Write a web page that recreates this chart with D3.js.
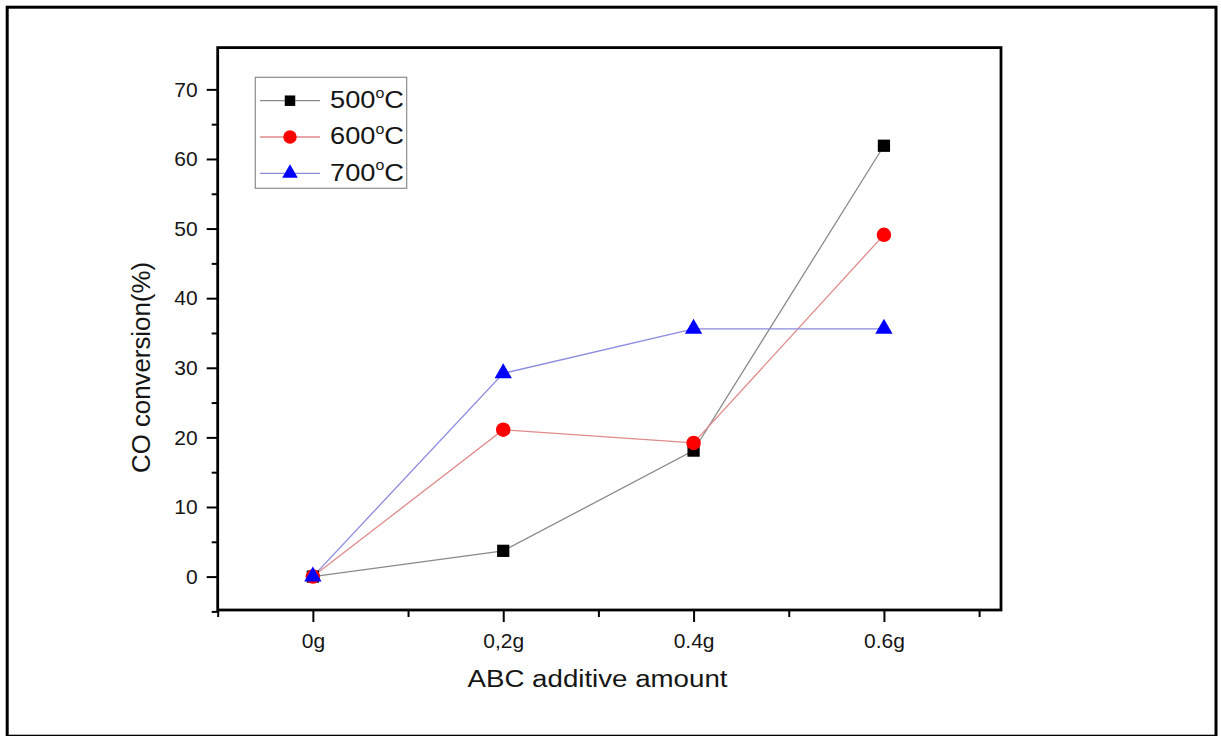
<!DOCTYPE html>
<html>
<head>
<meta charset="utf-8">
<script src="https://cdn.jsdelivr.net/npm/d3@7"></script>
<style>
  body { margin: 0; background: #fff; }
  svg { display: block; }
  text { font-family: "Liberation Sans", Arial, sans-serif; fill: #151515; }
</style>
</head>
<body>
<svg id="chart" width="1221" height="736"></svg>
<script>
// Categories on the x axis (ABC additive amount)
const categories = ["0g", "0,2g", "0.4g", "0.6g"];
// CO conversion (%) for each temperature
const values500 = [0, 3.7, 18.1, 61.9];
const values600 = [0, 21.1, 19.2, 49.1];
const values700 = [0, 29.2, 35.6, 35.6];
const seriesLabels = ["500", "600", "700"];
// Axis ticks
const yTicks = [0, 10, 20, 30, 40, 50, 60, 70];
const yMinorTicks = [-5, 5, 15, 25, 35, 45, 55, 65];
const xMinorTicks = [-0.5, 0.5, 1.5, 2.5, 3.5];

const series = [
  { label: seriesLabels[0], values: values500, color: "#000000", line: "#8a8a8a", symbol: d3.symbolSquare, size: 150, legendSize: 110 },
  { label: seriesLabels[1], values: values600, color: "#ff0000", line: "#e08a8a", symbol: d3.symbolCircle, size: 165, legendSize: 140 },
  { label: seriesLabels[2], values: values700, color: "#0000ff", line: "#8a8ae0", symbol: d3.symbolTriangle, size: 130, legendSize: 105 }
];

const svg = d3.select("#chart");

// Outer frame around the whole figure
svg.append("rect")
  .attr("x", 7.2).attr("y", 7.2)
  .attr("width", 1208.8).attr("height", 729)
  .attr("fill", "none").attr("stroke", "#000").attr("stroke-width", 3);

const plot = { left: 217.7, right: 1001, top: 47.6, bottom: 610 };

const x = d3.scaleLinear().domain([-0.5, 3.615]).range([plot.left, plot.right]);
const y = d3.scaleLinear().domain([-4.8, 76]).range([plot.bottom, plot.top]);

// Y axis: major and minor ticks
const yAxis = d3.axisLeft(y).tickValues(yTicks).tickSize(11).tickPadding(9).tickFormat(d3.format("d"));
const gy = svg.append("g").attr("transform", `translate(${plot.left},0)`).call(yAxis);
const yMinor = d3.axisLeft(y).tickValues(yMinorTicks).tickSize(6).tickFormat("");
const gy2 = svg.append("g").attr("transform", `translate(${plot.left},0)`).call(yMinor);

// X axis: category labels and minor ticks between them
const xAxis = d3.axisBottom(x).tickValues(d3.range(categories.length)).tickSize(12).tickPadding(11)
  .tickFormat(i => categories[i]);
const gx = svg.append("g").attr("transform", `translate(0,${plot.bottom})`).call(xAxis);
const xMinor = d3.axisBottom(x).tickValues(xMinorTicks).tickSize(7).tickFormat("");
const gx2 = svg.append("g").attr("transform", `translate(0,${plot.bottom})`).call(xMinor);

[gy, gy2, gx, gx2].forEach(g => {
  g.select(".domain").remove();
  g.selectAll(".tick line").attr("stroke", "#000").attr("stroke-width", 2);
  g.selectAll(".tick text").attr("font-size", 21).attr("fill", "#151515")
    .style("font-family", '"Liberation Sans", Arial, sans-serif');
});

// Plot frame
svg.append("rect")
  .attr("x", plot.left).attr("y", plot.top)
  .attr("width", plot.right - plot.left).attr("height", plot.bottom - plot.top)
  .attr("fill", "none").attr("stroke", "#000").attr("stroke-width", 2.8);

// Axis titles
svg.append("text")
  .attr("x", 597.5).attr("y", 687)
  .attr("text-anchor", "middle")
  .attr("font-size", 23)
  .attr("textLength", 260).attr("lengthAdjust", "spacingAndGlyphs")
  .text("ABC additive amount");

svg.append("text")
  .attr("transform", "translate(150,367.5) rotate(-90)")
  .attr("text-anchor", "middle")
  .attr("font-size", 25)
  .attr("textLength", 211).attr("lengthAdjust", "spacingAndGlyphs")
  .text("CO conversion(%)");

// Series lines and markers
const line = d3.line().x((d, i) => x(i)).y(d => y(d));
series.forEach(s => {
  svg.append("path")
    .attr("d", line(s.values))
    .attr("fill", "none")
    .attr("stroke", s.line)
    .attr("stroke-width", 1.3);
});
series.forEach(s => {
  svg.append("g").selectAll("path")
    .data(s.values)
    .join("path")
    .attr("transform", (d, i) => `translate(${x(i)},${y(d)})`)
    .attr("d", d3.symbol(s.symbol, s.size))
    .attr("fill", s.color);
});

// Legend
const legend = svg.append("g");
legend.append("rect")
  .attr("x", 255.3).attr("y", 77.3)
  .attr("width", 151.4).attr("height", 111)
  .attr("fill", "#fff").attr("stroke", "#8c8c8c").attr("stroke-width", 1.2);

series.forEach((s, i) => {
  const cy = 100.7 + i * 36.3;
  legend.append("line")
    .attr("x1", 260).attr("x2", 320).attr("y1", cy).attr("y2", cy)
    .attr("stroke", s.line).attr("stroke-width", 1.3);
  legend.append("path")
    .attr("transform", `translate(290,${cy})`)
    .attr("d", d3.symbol(s.symbol, s.legendSize))
    .attr("fill", s.color);
  const t = legend.append("text")
    .attr("x", 330).attr("y", cy + 7.2)
    .attr("font-size", 24)
    .attr("textLength", 74).attr("lengthAdjust", "spacingAndGlyphs");
  t.append("tspan").text(s.label);
  t.append("tspan").attr("font-size", 14).attr("dy", -10.4).text("o");
  t.append("tspan").attr("dy", 10.4).text("C");
});
</script>
</body>
</html>
